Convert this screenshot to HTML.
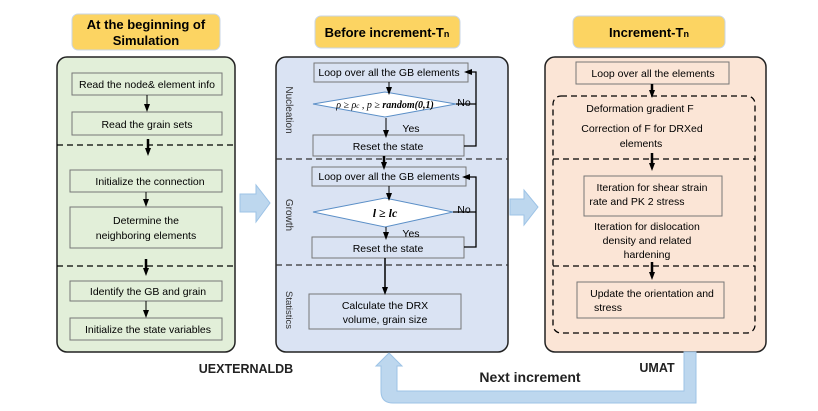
<!DOCTYPE html>
<html><head><meta charset="utf-8"><style>
body{margin:0;background:#fff}
svg{display:block;font-family:"Liberation Sans",sans-serif}
</style></head><body>
<svg width="818" height="411" viewBox="0 0 818 411" xmlns="http://www.w3.org/2000/svg">
<defs><marker id="a" markerWidth="8" markerHeight="8" refX="4" refY="4" orient="auto" markerUnits="userSpaceOnUse"><path d="M0,1 L8,4 L0,7 Z" fill="#000"/></marker></defs>
<g font-size="10.5" text-anchor="middle" fill="#000">
<!-- titles -->
<rect x="72" y="14" width="148" height="36" rx="6" fill="#fcd462" stroke="#c9d6e6"/>
<text x="146" y="29" font-size="13" font-weight="bold">At the beginning of</text>
<text x="146" y="45" font-size="13" font-weight="bold">Simulation</text>
<rect x="315" y="16" width="145" height="32" rx="6" fill="#fcd462" stroke="#c9d6e6"/>
<text x="387" y="37" font-size="13" font-weight="bold">Before increment-T<tspan font-size="9">n</tspan></text>
<rect x="573" y="16" width="152" height="32" rx="6" fill="#fcd462" stroke="#c9d6e6"/>
<text x="649" y="37" font-size="13" font-weight="bold">Increment-T<tspan font-size="9">n</tspan></text>

<!-- left panel -->
<rect x="57" y="57" width="178" height="295" rx="10" fill="#e2efd9" stroke="#222" stroke-width="1.5"/>
<g fill="#e2efd9" stroke="#777">
<rect x="72" y="73" width="150" height="22"/><rect x="72" y="112" width="150" height="23"/>
<rect x="70" y="170" width="152" height="22"/><rect x="70" y="207" width="152" height="41"/>
<rect x="70" y="281" width="152" height="20"/><rect x="70" y="318" width="152" height="22"/></g>
<text x="147" y="88">Read the node&amp; element info</text>
<text x="147" y="128">Read the grain sets</text>
<text x="150" y="185">Initialize the connection</text>
<text x="146" y="224">Determine the</text><text x="146" y="239">neighboring elements</text>
<text x="148" y="295">Identify the GB and grain</text>
<text x="148" y="333">Initialize the state variables</text>
<g stroke="#000" stroke-dasharray="6,4" stroke-width="1.3"><line x1="57" y1="145" x2="235" y2="145"/><line x1="57" y1="266" x2="235" y2="266"/></g>
<g stroke="#000" stroke-width="1"><line x1="147" y1="95" x2="147" y2="108" marker-end="url(#a)"/><line x1="146" y1="192" x2="146" y2="203" marker-end="url(#a)"/><line x1="146" y1="301" x2="146" y2="314" marker-end="url(#a)"/></g>
<g stroke="#000" stroke-width="2.5"><line x1="148" y1="139" x2="148" y2="152" marker-end="url(#a)"/><line x1="146" y1="259" x2="146" y2="272" marker-end="url(#a)"/></g>

<!-- middle panel -->
<rect x="276" y="57" width="232" height="295" rx="10" fill="#dae3f3" stroke="#222" stroke-width="1.5"/>
<g fill="#dae3f3" stroke="#777">
<rect x="314" y="63" width="154" height="19"/><rect x="313" y="135" width="151" height="21"/>
<rect x="312" y="167" width="154" height="19"/><rect x="312" y="237" width="152" height="21"/>
<rect x="309" y="294" width="152" height="35"/></g>
<polygon points="313,104 385,92 456,104 385,117" fill="#fff" stroke="#5b8fc7"/>
<polygon points="313,212 385,198 453,212 385,227" fill="#fff" stroke="#5b8fc7"/>
<text x="389" y="76">Loop over all the GB elements</text>
<text x="385" y="108" font-family="Liberation Serif" font-style="italic" font-size="10">ρ ≥ ρ<tspan font-size="7">c</tspan> ,  p ≥ <tspan font-weight="bold">random(0,1)</tspan></text>
<text x="388" y="150">Reset the state</text>
<text x="389" y="180">Loop over all the GB elements</text>
<text x="385" y="217" font-family="Liberation Serif" font-style="italic" font-weight="bold" font-size="12">l ≥ lc</text>
<text x="388" y="252">Reset the state</text>
<text x="385" y="309">Calculate the DRX</text><text x="385" y="323">volume, grain size</text>
<text x="411" y="132">Yes</text><text x="464" y="106">No</text>
<text x="411" y="237">Yes</text><text x="464" y="213">No</text>
<g fill="#333" font-size="10"><text transform="translate(286,110) rotate(90)">Nucleation</text>
<text transform="translate(286,215) rotate(90)">Growth</text>
<text transform="translate(286,310) rotate(90)" font-size="9.5">Statistics</text></g>
<g stroke="#000" stroke-width="1.3" fill="none">
<polyline points="464,146 476,146 476,72 468,72" marker-end="url(#a)"/>
<polyline points="456,104 476,104"/>
<polyline points="464,247 476,247 476,177 466,177" marker-end="url(#a)"/>
<polyline points="453,212 476,212"/></g>
<g stroke="#000" stroke-width="1"><line x1="389" y1="82" x2="389" y2="91" marker-end="url(#a)"/><line x1="386" y1="118" x2="386" y2="134" marker-end="url(#a)"/><line x1="389" y1="186" x2="389" y2="197" marker-end="url(#a)"/><line x1="386" y1="227" x2="386" y2="236" marker-end="url(#a)"/></g>
<g stroke="#000" stroke-width="2.5"><line x1="384" y1="156" x2="384" y2="166" marker-end="url(#a)"/></g>
<line x1="385" y1="258" x2="385" y2="291" stroke="#000" stroke-width="1.5" marker-end="url(#a)"/>
<g stroke="#333" stroke-dasharray="6,4" stroke-width="1.3"><line x1="276" y1="159" x2="508" y2="159"/><line x1="276" y1="265" x2="508" y2="265"/></g>

<!-- block arrows -->
<polygon points="240,194 256,194 256,185 270,203 256,222 256,212 240,212" fill="#bdd7ee" stroke="#9dc3e6"/>
<polygon points="510,199 524,199 524,190 538,207 524,225 524,215 510,215" fill="#bdd7ee" stroke="#9dc3e6"/>

<!-- right panel -->
<rect x="545" y="57" width="221" height="295" rx="10" fill="#fbe5d6" stroke="#222" stroke-width="1.5"/>
<rect x="576" y="62" width="153" height="22" fill="#fbe5d6" stroke="#777"/>
<rect x="553" y="96" width="202" height="237" rx="8" fill="none" stroke="#000" stroke-dasharray="6,4" stroke-width="1.3"/>
<g stroke="#000" stroke-dasharray="6,4" stroke-width="1.3"><line x1="553" y1="159" x2="755" y2="159"/><line x1="553" y1="266" x2="755" y2="266"/></g>
<rect x="584" y="176" width="138" height="40" fill="#fbe5d6" stroke="#777"/>
<rect x="577" y="282" width="147" height="36" fill="#fbe5d6" stroke="#777"/>
<text x="653" y="77">Loop over all the elements</text>
<text x="640" y="112">Deformation gradient F</text>
<text x="642" y="132">Correction of F for DRXed</text><text x="641" y="147">elements</text>
<text x="652" y="191">Iteration  for shear strain</text><text x="637" y="205" text-anchor="middle">rate and PK 2 stress</text>
<text x="647" y="230">Iteration  for dislocation</text><text x="647" y="244">density and related</text><text x="647" y="258">hardening</text>
<text x="652" y="297" >Update the orientation and</text><text x="569" y="311" text-anchor="start" dx="25">stress</text>
<g stroke="#000" stroke-width="2.5"><line x1="652" y1="84" x2="652" y2="94" marker-end="url(#a)"/><line x1="652" y1="153" x2="652" y2="167" marker-end="url(#a)"/><line x1="652" y1="262" x2="652" y2="276" marker-end="url(#a)"/></g>

<!-- bottom loop arrow -->
<path d="M684,352 L696,352 L696,403 L393,403 Q381,403 381,391 L381,366 L376,366 L389,353 L402,366 L397,366 L397,391 L684,391 Z" fill="#bdd7ee" stroke="#9dc3e6"/>
<text x="246" y="373" font-size="12.5" font-weight="bold" fill="#222">UEXTERNALDB</text>
<text x="657" y="372" font-size="12.5" font-weight="bold" fill="#222">UMAT</text>
<text x="530" y="382" font-size="14" font-weight="bold" fill="#222">Next increment</text>
</g>
</svg>
</body></html>
